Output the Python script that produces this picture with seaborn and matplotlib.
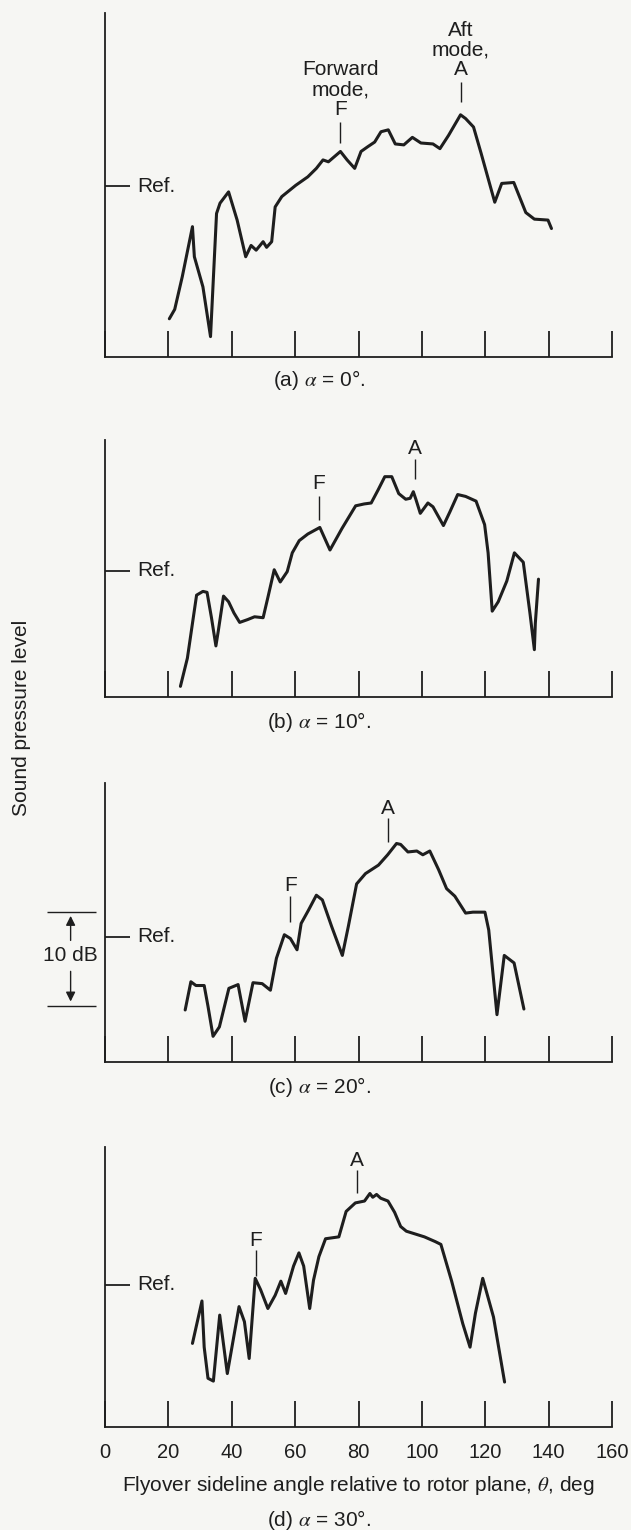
import pandas as pd
import seaborn as sns
import matplotlib.pyplot as plt

# -------------------------
# Data (dB relative to Ref., vs sideline angle in deg)
# -------------------------
a_angle = [20.3, 22.0, 24.4, 27.6, 28.2, 30.9, 33.3, 35.2, 36.3, 39.0, 41.7, 44.4, 46.1, 47.7,
           49.9, 51.0, 52.6, 53.7, 55.8, 60.2, 64.0, 66.7, 68.8, 70.5, 74.3, 76.4, 78.8, 80.8,
           82.9, 85.1, 87.1, 89.4, 91.6, 94.3, 97.0, 99.7, 103.5, 105.7, 108.4, 112.2, 113.8,
           116.3, 118.7, 123.0, 125.2, 129.0, 132.8, 135.5, 139.8, 140.9]
a_spl = [-14.1, -13.1, -9.6, -4.3, -7.5, -10.7, -16.0, -2.9, -1.8, -0.6, -3.6, -7.5, -6.3, -6.8,
         -5.9, -6.5, -5.9, -2.2, -1.1, 0.1, 1.0, 1.9, 2.8, 2.6, 3.7, 2.8, 1.9, 3.7,
         4.2, 4.7, 5.8, 6.0, 4.5, 4.4, 5.2, 4.6, 4.5, 4.0, 5.4, 7.6, 7.2,
         6.3, 3.5, -1.7, 0.3, 0.4, -2.8, -3.5, -3.6, -4.5]

b_angle = [23.8, 26.0, 28.9, 30.9, 32.2, 33.6, 35.0, 35.8, 37.4, 39.0, 40.7, 42.5, 45.0, 47.2,
           49.9, 51.5, 53.4, 55.3, 57.5, 59.1, 61.3, 64.0, 67.8, 71.0, 74.8, 79.1, 81.8, 84.0,
           86.2, 88.3, 90.5, 92.7, 94.9, 96.3, 97.3, 98.1, 99.5, 101.9, 103.5, 106.8, 108.9,
           111.3, 113.8, 117.1, 119.8, 120.9, 122.2, 124.1, 126.8, 129.2, 132.0, 134.1, 135.5,
           135.8, 136.8]
b_spl = [-12.3, -9.3, -2.6, -2.2, -2.3, -5.0, -8.0, -6.3, -2.7, -3.3, -4.5, -5.5, -5.2, -4.9,
         -5.0, -2.7, 0.1, -1.2, -0.1, 1.9, 3.2, 3.9, 4.6, 2.2, 4.5, 6.9, 7.1, 7.2,
         8.6, 10.0, 10.0, 8.2, 7.6, 7.7, 8.4, 7.6, 6.1, 7.2, 6.8, 4.8, 6.3,
         8.1, 7.9, 7.4, 4.9, 1.9, -4.3, -3.3, -1.1, 1.9, 0.9, -4.5, -8.4,
         -5.6, -0.9]

c_angle = [25.3, 27.1, 28.7, 31.3, 32.5, 34.1, 36.1, 39.1, 42.0, 44.2, 46.7, 49.6, 52.2, 54.1,
           56.6, 58.5, 60.6, 61.9, 64.2, 66.7, 68.6, 71.5, 74.9, 76.8, 79.4, 82.2, 86.3, 89.2,
           92.0, 93.3, 95.6, 98.4, 100.3, 102.5, 105.3, 107.8, 110.4, 113.8, 116.1, 119.9,
           121.1, 123.7, 126.0, 129.1, 132.2]
c_spl = [-7.8, -4.8, -5.2, -5.2, -7.4, -10.6, -9.6, -5.5, -5.1, -9.0, -4.9, -5.0, -5.7, -2.3,
         0.2, -0.2, -1.4, 1.4, 2.8, 4.4, 3.9, 1.1, -2.0, 1.1, 5.6, 6.7, 7.6, 8.7,
         9.9, 9.8, 9.0, 9.1, 8.7, 9.1, 7.1, 5.1, 4.3, 2.5, 2.6, 2.6,
         0.7, -8.3, -2.0, -2.8, -7.7]

d_angle = [27.6, 30.6, 31.3, 32.5, 34.2, 36.2, 38.6, 42.3, 44.0, 45.5, 47.4, 49.1, 51.4, 53.7,
           55.5, 57.0, 59.5, 61.2, 62.7, 64.6, 65.8, 67.5, 69.6, 73.8, 76.1, 79.0, 81.9, 83.6,
           84.5, 85.7, 87.0, 89.3, 91.4, 93.3, 95.1, 100.8, 104.2, 106.0, 109.4, 112.9,
           115.2, 116.9, 119.2, 122.6, 126.1]
d_spl = [-6.2, -1.7, -6.6, -9.9, -10.2, -3.2, -9.4, -2.3, -3.9, -7.8, 0.7, -0.5, -2.5, -1.1,
         0.4, -0.9, 2.0, 3.4, 2.0, -2.5, 0.5, 3.0, 4.9, 5.1, 7.8, 8.7, 8.9, 9.7,
         9.3, 9.6, 9.2, 8.9, 7.7, 6.2, 5.7, 5.1, 4.6, 4.3, 0.4, -4.1,
         -6.6, -3.0, 0.7, -3.4, -10.3]

captions = ["(a) $\\alpha$ = 0°.", "(b) $\\alpha$ = 10°.", "(c) $\\alpha$ = 20°.", "(d) $\\alpha$ = 30°."]
f_labels = ["Forward\nmode,\nF", "F", "F", "F"]
a_labels = ["Aft\nmode,\nA", "A", "A", "A"]
# (x, text baseline, line top, line bottom)
f_marks = [(74.3, 7.6, 6.8, 4.6), (67.5, 8.7, 7.9, 5.4), (58.5, 4.8, 4.3, 1.6), (47.6, 4.1, 3.7, 0.9)]
a_marks = [(112.3, 11.8, 11.1, 9.0), (97.8, 12.4, 11.9, 9.7), (89.2, 13.0, 12.6, 10.1), (79.6, 12.6, 12.2, 9.8)]
y_limits = [(-18.2, 18.4), (-13.4, 13.9), (-13.3, 16.3), (-15.1, 14.6)]
x_ticks = [0, 20, 40, 60, 80, 100, 120, 140, 160]

# -------------------------
# Style
# -------------------------
BG = "#f6f6f3"
INK = "#1e1e1e"
sns.set_style("ticks")
plt.rcParams["font.family"] = ["Liberation Sans", "DejaVu Sans"]
plt.rcParams["mathtext.fontset"] = "stix"
plt.rcParams["font.size"] = 15
plt.rcParams["text.color"] = INK

W, H = 631, 1530
fig = plt.figure(figsize=(W / 100, H / 100), dpi=100, facecolor=BG)

# axes boxes in pixels: top, bottom
boxes = [(13.3, 357.3), (440.0, 696.7), (783.3, 1061.7), (1147.3, 1427.3)]
left_px, right_px = 105, 612
caption_y = [380, 722, 1087, 1520]

series = [(a_angle, a_spl), (b_angle, b_spl), (c_angle, c_spl), (d_angle, d_spl)]

for i, (xs, ys) in enumerate(series):
    top, bot = boxes[i]
    ax = fig.add_axes([left_px / W, 1 - bot / H, (right_px - left_px) / W, (bot - top) / H])
    ax.set_facecolor(BG)

    df = pd.DataFrame({"angle": xs, "spl": ys})
    sns.lineplot(data=df, x="angle", y="spl", ax=ax, color=INK, lw=2.2,
                 estimator=None, sort=False)

    ax.set_xlim(0, 160)
    ax.set_ylim(*y_limits[i])
    ax.set_xlabel("")
    ax.set_ylabel("")

    for s in ["top", "right"]:
        ax.spines[s].set_visible(False)
    for s in ["left", "bottom"]:
        ax.spines[s].set_color(INK)
        ax.spines[s].set_linewidth(1.3)

    ax.set_xticks(x_ticks)
    ax.tick_params(axis="x", bottom=True, direction="in", length=19, width=1.3, color=INK,
                   labelsize=14.5, pad=11, labelcolor=INK)
    ax.set_yticks([0])
    ax.set_yticklabels([])
    ax.tick_params(axis="y", left=True, direction="in", length=18, width=1.3, color=INK)
    ax.text(10.2, 0, "Ref.", va="center", ha="left", fontsize=15)

    if i < 3:
        ax.set_xticklabels([])
    else:
        ax.set_xlabel("Flyover sideline angle relative to rotor plane, $\\theta$, deg",
                      fontsize=15, labelpad=9, color=INK)

    # mode markers
    for lab, (mx, ty, y0, y1) in [(f_labels[i], f_marks[i]), (a_labels[i], a_marks[i])]:
        ax.vlines(mx, y1, y0, color=INK, lw=1.0)
        ax.text(mx, ty, lab, ha="center", va="baseline", fontsize=15,
                linespacing=1.05, multialignment="center")

    # 10 dB scale bar in panel (c)
    if i == 2:
        ax.hlines([2.66, -7.34], -18.3, -2.8, color=INK, lw=1.0, clip_on=False)
        ax.annotate("", xy=(-10.85, 2.5), xytext=(-10.85, -0.7),
                    arrowprops=dict(arrowstyle="-|>", color=INK, lw=1.0, mutation_scale=14),
                    annotation_clip=False)
        ax.annotate("", xy=(-10.85, -7.2), xytext=(-10.85, -3.4),
                    arrowprops=dict(arrowstyle="-|>", color=INK, lw=1.0, mutation_scale=14),
                    annotation_clip=False)
        ax.text(-10.85, -2.0, "10 dB", ha="center", va="center", fontsize=15)

    fig.text(319 / W, 1 - caption_y[i] / H, captions[i], ha="center", va="center", fontsize=15)

fig.text(21.7 / W, 1 - 718 / H, "Sound pressure level", rotation=90,
         ha="center", va="center", fontsize=15)

fig.savefig("out.png", dpi=100, facecolor=BG)
